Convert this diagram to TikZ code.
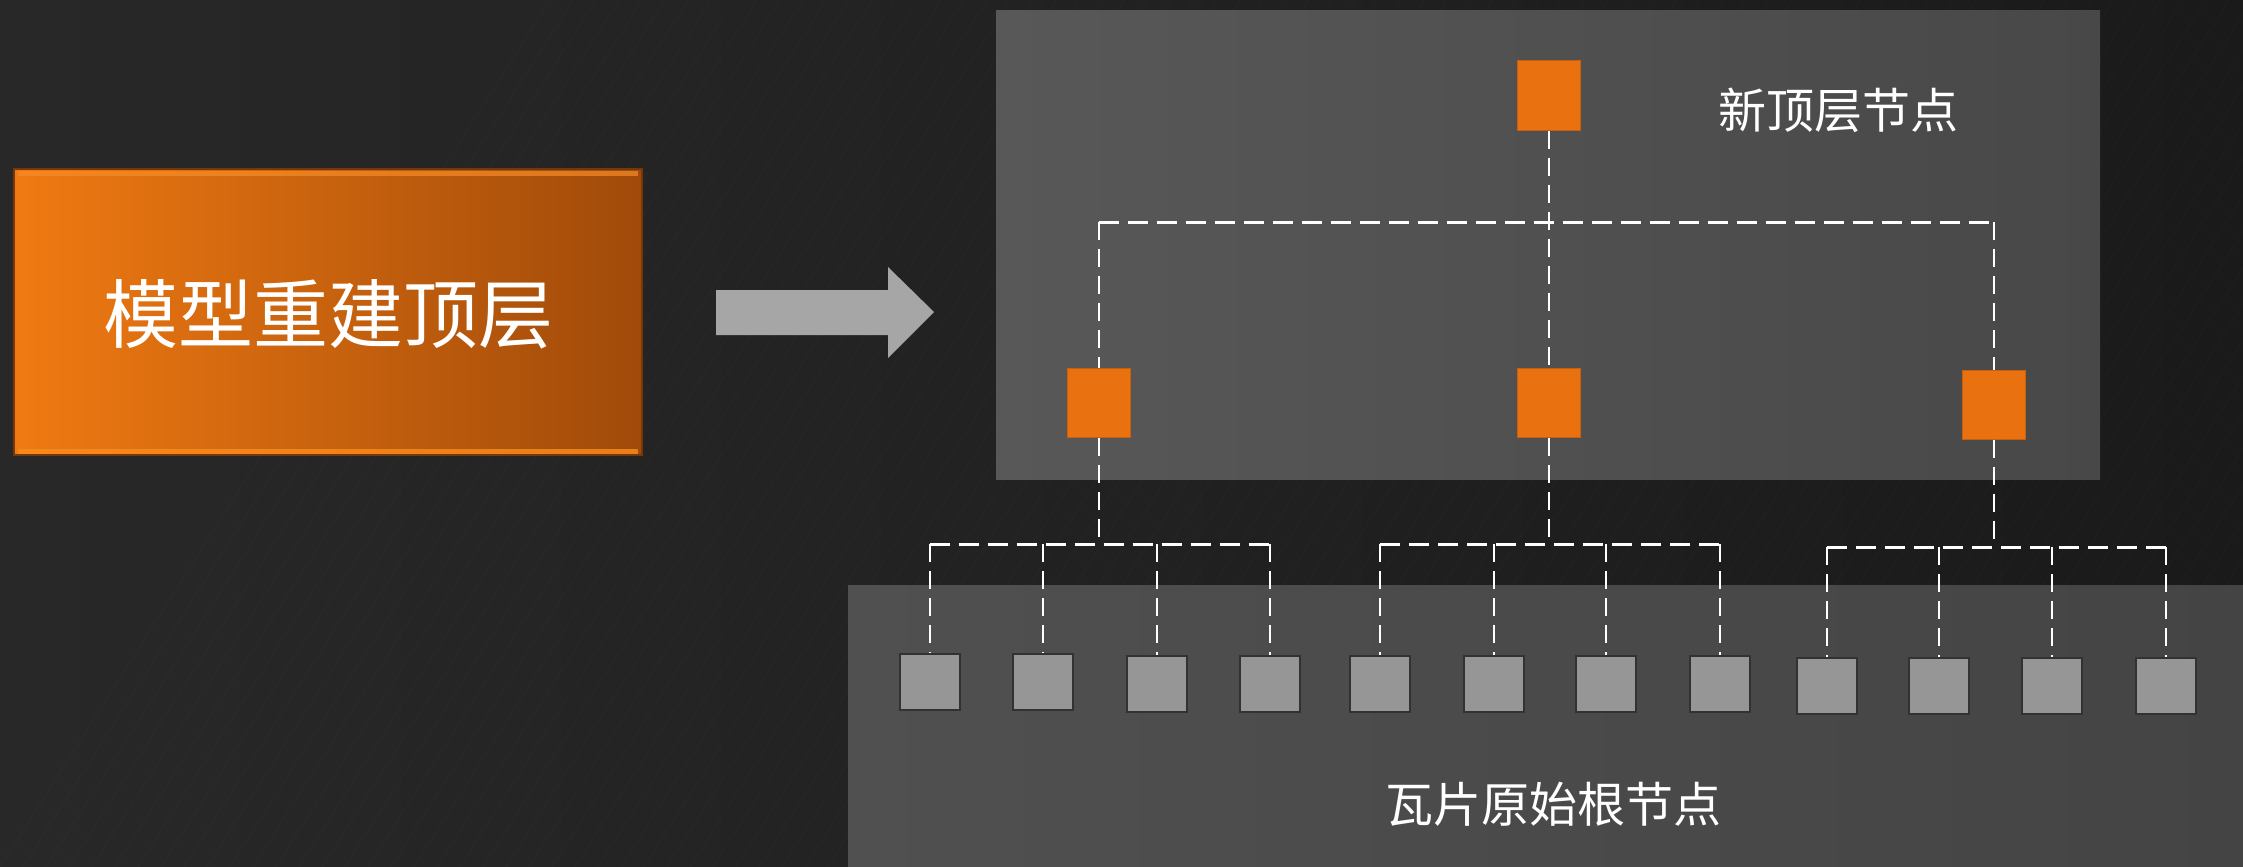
\documentclass[tikz,border=0pt]{standalone}
\usepackage{fontspec}
\newfontfamily\cjk{Noto Sans CJK SC}
\definecolor{bgL}{RGB}{40,40,40}
\definecolor{bgR}{RGB}{26,26,26}
\definecolor{panTL}{RGB}{88,88,88}
\definecolor{panTR}{RGB}{72,72,72}
\definecolor{panBL}{RGB}{80,80,80}
\definecolor{panBR}{RGB}{68,68,68}
\definecolor{orL}{RGB}{240,122,18}
\definecolor{orR}{RGB}{160,74,10}
\definecolor{orTop}{RGB}{246,140,40}
\definecolor{orBot}{RGB}{250,140,30}
\definecolor{orEdge}{RGB}{120,55,8}
\definecolor{orFill}{RGB}{233,113,15}
\definecolor{orDraw}{RGB}{200,95,10}
\definecolor{grFill}{RGB}{150,150,150}
\definecolor{grDraw}{RGB}{50,50,50}
\definecolor{arrowGray}{RGB}{166,166,166}
\begin{document}
\begin{tikzpicture}[x=1pt,y=-1pt,
  orangenode/.style={rectangle,fill=orFill,draw=orDraw,line width=1pt,minimum width=63pt,minimum height=69pt,inner sep=0pt},
  graynode/.style={rectangle,fill=grFill,draw=grDraw,line width=2pt,minimum width=60pt,minimum height=56pt,inner sep=0pt},
  conn/.style={draw=white,line width=2pt,dash pattern=on 18pt off 9pt},
  hbus/.style={draw=white,line width=3pt,dash pattern=on 20pt off 9pt},
  lbl/.style={text=white,inner sep=0pt,font=\cjk\fontsize{48}{56}\selectfont}]
\useasboundingbox (0,0) rectangle (2243,867);
% background
\shade[left color=bgL,right color=bgR] (0,0) rectangle (2243,867);
\foreach \i in {0,23,...,2700}{
  \draw[white,opacity=0.012,line width=2pt] (\i,867) -- (\i+550,0);
}
% panels
\shade[left color=panTL,right color=panTR] (996,11) rectangle (2100,479);
\shade[left color=panBL,right color=panBR] (848,585) rectangle (2243,867);
% orange title box
\shade[left color=orL,right color=orR] (14,169) rectangle (642,455);
\draw[orTop,line width=5pt,opacity=0.7] (18,173) -- (638,173);
\draw[orBot,line width=5pt,opacity=0.8] (18,451) -- (638,451);
\draw[orEdge,line width=2pt] (14,169) rectangle (642,455);
\node[text=white,inner sep=0pt,font=\cjk\fontsize{75}{85}\selectfont] (title) at (328,314) {模型重建顶层};
% arrow
\fill[arrowGray] (716,290) -- (888,290) -- (888,267) -- (934,312) -- (888,358) -- (888,335) -- (716,335) -- cycle;
% upper tree
\node[orangenode] (t) at (1548.5,95.5) {};
\node[orangenode] (m1) at (1098.5,403) {};
\node[orangenode] (m2) at (1548.5,403) {};
\node[orangenode] (m3) at (1994,404.5) {};
\node[lbl] (toplbl) at (1838,110) {新顶层节点};
\coordinate (busT) at (0,222);
\draw[conn] (t.south) -- (m2.north);
\draw[hbus] (m1.north |- busT) -- (m3.north |- busT);
\draw[conn] (m1.north |- busT) -- (m1.north);
\draw[conn] (m3.north |- busT) -- (m3.north);
% lower nodes
\foreach \n/\x/\y in {1/929.5/681.5,2/1043/681.5,3/1156.5/684,4/1270/684,5/1380/684,6/1494/684,7/1606/684,8/1720/684,9/1826.5/686,10/1939/686,11/2052/686,12/2166/686}{
  \node[graynode] (s\n) at (\x,\y) {};
}
\node[lbl] (botlbl) at (1553,804) {瓦片原始根节点};
\coordinate (busA) at (0,544);
\coordinate (busC) at (0,547);
\draw[conn] (m1.south) -- (m1.south |- busA);
\draw[conn] (m2.south) -- (m2.south |- busA);
\draw[conn] (m3.south) -- (m3.south |- busC);
\draw[hbus] (s1.north |- busA) -- (s4.north |- busA);
\draw[hbus] (s5.north |- busA) -- (s8.north |- busA);
\draw[hbus] (s9.north |- busC) -- (s12.north |- busC);
\foreach \k in {1,2,3,4,5,6,7,8}{
  \draw[conn] (s\k.north |- busA) -- (s\k.north);
}
\foreach \k in {9,10,11,12}{
  \draw[conn] (s\k.north |- busC) -- (s\k.north);
}
\end{tikzpicture}
\end{document}
